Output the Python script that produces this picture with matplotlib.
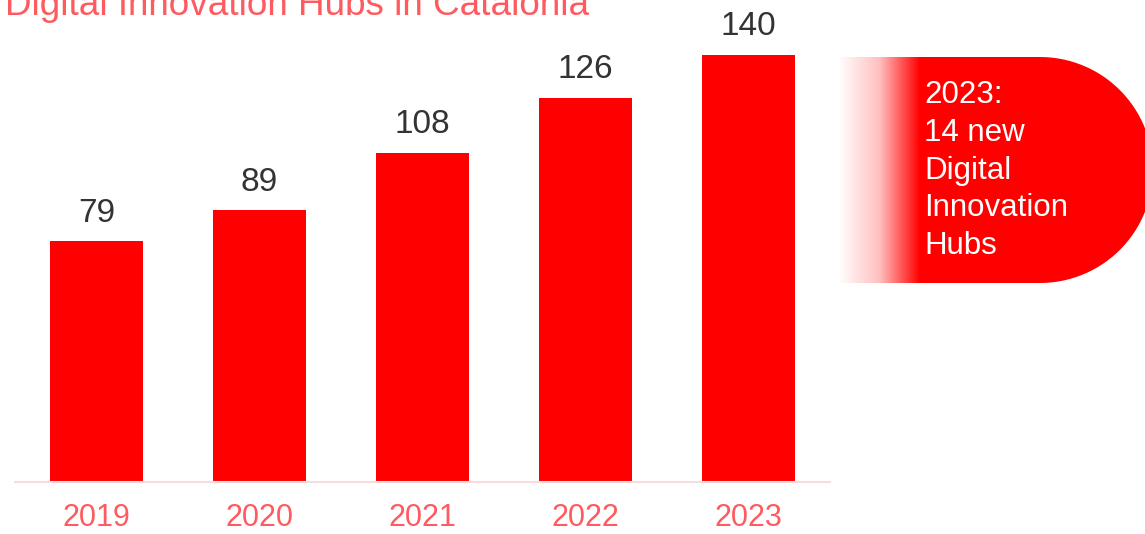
import numpy as np
import matplotlib.pyplot as plt
from matplotlib.path import Path
from matplotlib.patches import PathPatch
from matplotlib.colors import LinearSegmentedColormap

plt.rcParams['font.family'] = ['Liberation Sans', 'DejaVu Sans']

years = ["2019", "2020", "2021", "2022", "2023"]
hubs = [79, 89, 108, 126, 140]
title = "Digital Innovation Hubs in Catalonia"
callout = "2023:\n14 new\nDigital\nInnovation\nHubs"

RED = "#ff0000"
LIGHT_RED = "#ff5a5f"

fig = plt.figure(figsize=(11.45, 5.34), dpi=100)
W, H = 1145, 534

# main bar axes
ax = fig.add_axes([15 / W, 52 / H, 815 / W, 482 / H])
x = np.arange(len(years))
ax.bar(x, hubs, width=0.565, color=RED, zorder=2)
ax.set_xlim(-0.5, len(years) - 0.5)
ax.set_ylim(0, 158)

for xi, v in zip(x, hubs):
    ax.annotate(str(v), (xi, v), xytext=(0, 9), textcoords="offset points",
                ha="center", va="bottom", fontsize=24, color="#333333")

ax.set_xticks(x)
ax.set_xticklabels(years, fontsize=22, color=LIGHT_RED)
ax.tick_params(axis="x", length=0, pad=15)
ax.set_yticks([])
for s in ["top", "right", "left"]:
    ax.spines[s].set_visible(False)
ax.spines["bottom"].set_color("#fadadd")
ax.spines["bottom"].set_linewidth(1.5)

# overlay axes in pixel coordinates for title and callout
ov = fig.add_axes([0, 0, 1, 1])
ov.set_xlim(0, W)
ov.set_ylim(H, 0)
ov.axis("off")
ov.patch.set_alpha(0)

ov.text(5, 15, title, fontsize=26.6, color=LIGHT_RED, ha="left", va="baseline")

# callout shape: rectangle on left, rounded right end
x0, x1, y0, y1 = 838, 1040, 57, 283
r = (y1 - y0) / 2
cy = (y0 + y1) / 2
ang = np.linspace(-np.pi / 2, np.pi / 2, 60)
arc = np.column_stack([x1 + r * np.cos(ang), cy + r * np.sin(ang)])
verts = np.vstack([[x0, y0], [x1, y0], arc, [x1, y1], [x0, y1], [x0, y0]])
codes = [Path.MOVETO] + [Path.LINETO] * (len(verts) - 2) + [Path.CLOSEPOLY]
shape = PathPatch(Path(verts, codes), facecolor="none", edgecolor="none")
ov.add_patch(shape)

cmap = LinearSegmentedColormap.from_list("fade", ["#ffffff", "#ffc0c0", RED])
xs = np.linspace(x0, x1 + r, 400)
grad = np.clip((xs - x0) / (920 - x0), 0, 1)
img = ov.imshow(grad[np.newaxis, :], extent=[x0, x1 + r, y1, y0], cmap=cmap,
                vmin=0, vmax=1, aspect="auto", zorder=1)
img.set_clip_path(shape)
ov.set_xlim(0, W)
ov.set_ylim(H, 0)

ov.text(924, 80, callout, fontsize=22.5, color="white", ha="left", va="top",
        linespacing=1.34, zorder=3)

fig.savefig("out.png", dpi=100)
